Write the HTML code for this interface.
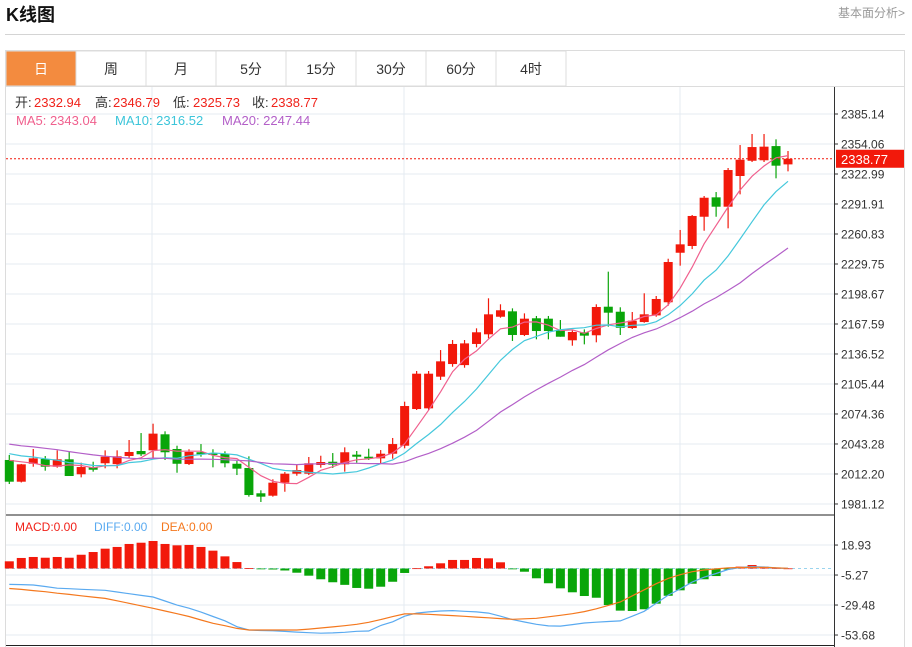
<!DOCTYPE html>
<html><head><meta charset="utf-8"><style>
html,body{margin:0;padding:0;background:#fff;width:912px;height:647px;overflow:hidden;font-family:"Liberation Sans","Noto Sans CJK SC",sans-serif}
svg text{font-family:"Liberation Sans","Noto Sans CJK SC",sans-serif}
</style></head><body>
<svg id="chart" width="912" height="647" viewBox="0 0 912 647" xmlns="http://www.w3.org/2000/svg">
<text x="6" y="21" font-size="18" font-weight="bold" fill="#111">K线图</text>
<text x="905" y="17" font-size="12" fill="#999" text-anchor="end">基本面分析&gt;</text>
<line x1="5" y1="34.5" x2="905" y2="34.5" stroke="#d4d4d4"/>
<rect x="5.5" y="50.5" width="899" height="600" fill="none" stroke="#dcdcdc"/>
<g id="tabs"></g>
<g id="grid"></g>
<g id="candles"></g>
<g id="mas"></g>
<g id="macd"></g>
<g id="axis"></g>
<g id="legend"></g>
</svg>
<script>
const opens=[2026.7,2004.2,2022.8,2027.7,2019.7,2027.4,2011.9,2019.1,2023.3,2022.5,2030.8,2036.0,2036.7,2053.3,2038.1,2022.5,2034.7,2033.9,2033.2,2022.8,2018.4,1992.2,1989.7,2003.2,2012.5,2012.5,2021.5,2024.9,2022.2,2032.2,2030.1,2028.4,2033.2,2041.5,2079.5,2080.2,2113.0,2126.1,2125.0,2146.9,2156.9,2175.1,2180.7,2156.2,2173.5,2173.1,2161.3,2150.7,2159.0,2155.9,2185.5,2180.3,2163.4,2169.6,2176.5,2190.1,2241.4,2248.4,2278.7,2298.8,2289.1,2320.9,2336.7,2337.2,2351.9,2332.94];
const highs=[2031.9,2022.6,2038.1,2030.8,2036.7,2035.3,2023.9,2024.9,2036.7,2036.7,2047.4,2054.6,2064.3,2056.4,2041.5,2037.8,2043.2,2037.8,2035.7,2025.6,2030.5,1995.3,2006.7,2014.2,2021.5,2029.8,2031.1,2033.9,2039.8,2036.0,2038.4,2037.0,2049.5,2087.1,2118.9,2118.9,2140.6,2151.0,2151.0,2163.1,2194.2,2188.0,2183.8,2178.6,2175.9,2175.9,2171.7,2161.3,2162.0,2188.0,2221.8,2184.9,2180.0,2199.4,2196.6,2235.2,2265.0,2280.5,2300.2,2304.3,2329.2,2353.0,2364.4,2364.4,2358.9,2346.79];
const lows=[2001.8,2003.4,2019.7,2015.6,2018.7,2010.1,2008.7,2014.6,2018.1,2018.1,2028.4,2030.8,2028.4,2026.7,2013.5,2021.5,2030.1,2019.1,2019.1,2011.1,1988.7,1983.2,1988.7,1993.8,2010.4,2011.1,2018.7,2018.4,2014.6,2023.9,2026.7,2023.3,2028.0,2038.8,2078.5,2078.5,2109.6,2123.3,2122.3,2143.4,2152.8,2174.1,2150.0,2155.1,2151.7,2151.7,2154.4,2145.1,2146.5,2148.6,2164.8,2156.2,2162.4,2168.9,2175.1,2186.5,2228.0,2245.2,2264.2,2278.7,2266.7,2301.9,2335.4,2335.4,2318.5,2325.73];
const closes=[2004.2,2022.2,2028.4,2019.7,2027.4,2010.1,2019.4,2016.6,2030.1,2030.5,2035.0,2032.6,2054.0,2034.7,2022.8,2035.0,2032.6,2031.9,2023.3,2017.7,1990.4,1988.7,2003.2,2012.5,2016.3,2023.3,2024.6,2021.8,2034.7,2030.1,2028.4,2033.2,2043.2,2082.6,2116.1,2116.1,2128.9,2146.9,2147.5,2159.0,2177.6,2181.8,2156.2,2173.1,2160.3,2160.3,2154.4,2159.3,2155.5,2185.2,2179.3,2163.7,2171.0,2177.6,2193.5,2231.8,2250.1,2279.5,2298.4,2289.1,2327.1,2337.8,2350.9,2351.3,2331.6,2338.77];
const priorCloses=[2058,2052,2049,2055,2050,2054,2051,2056,2052,2055,2045,2040,2038,2042,2035,2030,2036,2032,2029.8];
const priceTicks=[2385.14,2354.06,2322.99,2291.91,2260.83,2229.75,2198.67,2167.59,2136.52,2105.44,2074.36,2043.28,2012.20,1981.12];
const macdBars=[5.8,8.5,9.3,8.7,9.3,8.7,11.1,13.3,16.0,17.4,19.8,20.8,22.2,19.8,18.7,19.0,17.4,14.4,9.8,5.2,0.3,-0.5,-0.8,-1.6,-3.4,-5.8,-8.7,-11.1,-13.2,-15.7,-16.3,-14.7,-10.7,-3.6,0.2,1.8,4.2,6.9,6.9,8.5,8.2,5.0,-0.3,-2.6,-7.9,-11.9,-16.0,-19.2,-22.2,-23.6,-29.5,-34.0,-34.3,-32.9,-28.4,-22.0,-17.6,-12.3,-8.7,-6.1,-0.8,1.5,2.8,1.5,0.4,0.1];
const diffLine=[-12.8,-13.0,-13.3,-14.5,-15.9,-16.3,-16.8,-17.2,-17.6,-19.0,-20.3,-21.7,-23.0,-26.2,-29.5,-32.0,-35.2,-38.7,-42.2,-47.0,-49.6,-50.0,-50.3,-50.8,-51.3,-51.8,-52.2,-52.0,-51.5,-50.7,-50.4,-46.0,-43.0,-38.5,-36.0,-35.0,-34.3,-34.0,-34.5,-35.0,-36.0,-38.5,-41.2,-43.2,-45.0,-46.3,-46.5,-45.3,-44.0,-43.3,-42.8,-42.3,-38.5,-34.5,-28.0,-21.5,-16.5,-11.0,-7.0,-4.0,-0.8,0.8,1.5,1.2,0.5,0.2];
const deaLine=[-16.1,-16.9,-17.8,-18.7,-19.9,-20.9,-22.0,-23.1,-24.1,-26.1,-28.1,-30.1,-32.1,-34.3,-36.5,-38.7,-41.6,-44.2,-46.2,-48.3,-49.6,-49.6,-49.6,-49.6,-49.6,-48.9,-48.0,-47.1,-46.2,-45.0,-43.4,-41.2,-38.8,-36.6,-36.6,-37.0,-37.5,-38.0,-38.6,-39.2,-39.8,-40.4,-41.0,-40.6,-40.2,-39.0,-37.8,-36.5,-34.8,-32.5,-29.8,-27.0,-22.0,-17.2,-12.3,-8.0,-5.0,-2.6,-1.2,-0.3,0.5,0.8,1.0,1.0,0.6,0.2];
const macdTicks=[18.93,-5.27,-29.48,-53.68];
const tabLabels=['日','周','月','5分','15分','30分','60分','4时'];

const NS='http://www.w3.org/2000/svg';
function mk(tag,attrs,parent,text){const e=document.createElementNS(NS,tag);for(const k in attrs)e.setAttribute(k,attrs[k]);if(text!==undefined)e.textContent=text;parent.appendChild(e);return e;}
const yP=v=>114+(2385.14-v)/31.08*30;
const yM=v=>568.5-v/0.807;
const xC=i=>9.3+i*11.98;
const R='#f2190b',G='#09a509';

// tabs
const tabs=document.getElementById('tabs');
tabLabels.forEach((t,i)=>{
  const x=6+i*70;
  const r=mk('rect',{x:x,y:51,width:70,height:35,fill:i===0?'#f38b3f':'#fff',stroke:'#dcdcdc'},tabs);
  
  
  const tx=mk('text',{x:x+35,y:74,'font-size':14,'text-anchor':'middle',fill:i===0?'#fff':'#333'},tabs,t);
  
  
});
mk('line',{x1:6,y1:86.5,x2:904,y2:86.5,stroke:'#dcdcdc'},tabs);

// grid
const grid=document.getElementById('grid');
priceTicks.forEach(v=>{const l=mk('line',{x1:6,x2:834,y1:yP(v),y2:yP(v),stroke:'#e4ebf2'},grid);});
macdTicks.forEach(v=>{const l=mk('line',{x1:6,x2:834,y1:yM(v),y2:yM(v),stroke:'#e4ebf2'},grid);});
[152,404,680].forEach(x=>{mk('line',{x1:x,x2:x,y1:87,y2:646,stroke:'#e4ebf2'},grid);});

// candles
const cg=document.getElementById('candles');
closes.forEach((c,i)=>{
  const o=opens[i],up=c>=o,col=up?R:G,x=xC(i);
  const w=mk('line',{x1:x,x2:x,y1:yP(highs[i]),y2:yP(lows[i]),stroke:col,'stroke-width':1.2},cg);
  
  
  const t=yP(Math.max(o,c)),b=yP(Math.min(o,c));
  const r=mk('rect',{x:x-4.5,y:t,width:9,height:Math.max(1,b-t),fill:col},cg);
  
  
});
// last price
const lp=closes[closes.length-1];
mk('line',{x1:6,x2:834,y1:yP(lp),y2:yP(lp),stroke:'#f2190b','stroke-dasharray':'2,2','stroke-width':1},cg);

// MAs
const all=priorCloses.concat(closes),off=priorCloses.length;
function ma(n){return closes.map((_,i)=>{let s=0;for(let k=0;k<n;k++)s+=all[off+i-k];return s/n;});}
const mg=document.getElementById('mas');
[[5,'#f0608e','ma5-line'],[10,'#45c8dc','ma10-line'],[20,'#b35fc8','ma20-line']].forEach(([n,col,name])=>{
  const pts=ma(n).map((v,i)=>xC(i).toFixed(1)+','+yP(v).toFixed(1)).join(' ');
  const p=mk('polyline',{points:pts,fill:'none',stroke:col,'stroke-width':1.2},mg);
  
  
});

// MACD
const mc=document.getElementById('macd');
mk('line',{x1:6,x2:834,y1:515,y2:515,stroke:'#222'},mc);
mk('line',{x1:6,x2:834,y1:645.5,y2:645.5,stroke:'#222'},mc);
mk('line',{x1:6,x2:834,y1:yM(0),y2:yM(0),stroke:'#9ad4ee','stroke-dasharray':'3,3'},mc);
macdBars.forEach((v,i)=>{
  const y0=yM(0),y1=yM(v);
  const r=mk('rect',{x:xC(i)-4.5,y:Math.min(y0,y1),width:9,height:Math.max(0.8,Math.abs(y1-y0)),fill:v>=0?R:G},mc);
  
  
});
[[diffLine,'#5aaaf0','diff-line'],[deaLine,'#f4781e','dea-line']].forEach(([arr,col,name])=>{
  const p=mk('polyline',{points:arr.map((v,i)=>xC(i).toFixed(1)+','+yM(v).toFixed(1)).join(' '),fill:'none',stroke:col,'stroke-width':1.2},mc);
  
  
});

// axis
const ax=document.getElementById('axis');
mk('line',{x1:834.5,x2:834.5,y1:87,y2:647,stroke:'#333'},ax);
priceTicks.forEach(v=>{
  mk('line',{x1:834,x2:838,y1:yP(v),y2:yP(v),stroke:'#333'},ax);
  const t=mk('text',{x:841,y:yP(v)+4.5,'font-size':12,fill:'#333'},ax,v.toFixed(2));
  
  
});
macdTicks.forEach(v=>{
  mk('line',{x1:834,x2:838,y1:yM(v),y2:yM(v),stroke:'#333'},ax);
  const t=mk('text',{x:841,y:yM(v)+4.5,'font-size':12,fill:'#333'},ax,v.toFixed(2));
  
  
});
const tag=mk('rect',{x:836,y:yP(lp)-9,width:68,height:18,fill:'#f2190b'},ax);


mk('text',{x:841,y:yP(lp)+5,'font-size':13,fill:'#fff'},ax,lp.toFixed(2));

// legend
const lg=document.getElementById('legend');
function lt(x,y,s,col,name){const t=mk('text',{x:x,y:y,'font-size':13,fill:col},lg,s);}
const n=closes.length-1;
lt(15,107,'开:','#333','open-label');lt(34,107,opens[n].toFixed(2),'#f0221a','open-value');
lt(95,107,'高:','#333','high-label');lt(113,107,highs[n].toFixed(2),'#f0221a','high-value');
lt(173,107,'低:','#333','low-label');lt(193,107,lows[n].toFixed(2),'#f0221a','low-value');
lt(252,107,'收:','#333','close-label');lt(271,107,closes[n].toFixed(2),'#f0221a','close-value');
lt(16,125,'MA5: 2343.04','#f0608e','ma5-legend');
lt(115,125,'MA10: 2316.52','#3cc5da','ma10-legend');
lt(222,125,'MA20: 2247.44','#b35fc8','ma20-legend');
function ml(x,s,col,name){const t=mk('text',{x:x,y:531,'font-size':12,fill:col},lg,s);}
ml(15,'MACD:0.00','#f0221a','macd-legend');
ml(94,'DIFF:0.00','#5aaaf0','diff-legend');
ml(161,'DEA:0.00','#f4781e','dea-legend');
</script>
</body></html>
